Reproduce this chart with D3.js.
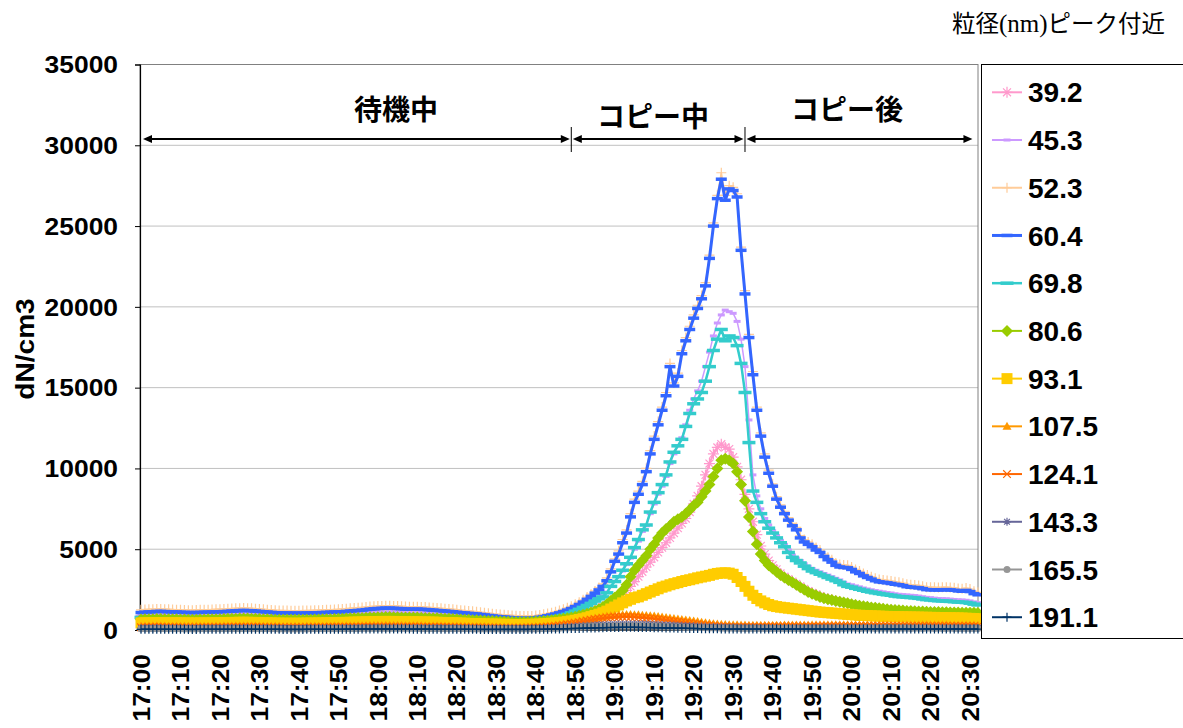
<!DOCTYPE html>
<html><head><meta charset="utf-8">
<script src="https://cdn.jsdelivr.net/npm/d3@7"></script>
<style>body{margin:0;background:#fff;}svg{display:block;}</style>
</head><body>
<svg id="chart" width="1183" height="728"></svg>
<script>
// ---------- DATA ----------
const startTime = "17:00";
const stepMinutes = 1;
const tickLabels = ["17:00","17:10","17:20","17:30","17:40","17:50","18:00","18:10","18:20","18:30","18:40","18:50","19:00","19:10","19:20","19:30","19:40","19:50","20:00","20:10","20:20","20:30"];
const yTickValues = [0,5000,10000,15000,20000,25000,30000,35000];
const seriesNames = ["39.2","45.3","52.3","60.4","69.8","80.6","93.1","107.5","124.1","143.3","165.5","191.1"];
const phaseLabels = ["待機中","コピー中","コピー後"];
const phaseBounds = ["17:00","18:49","19:33","20:31"];
const yTitle = "dN/cm3";
const caption = ["粒径","(nm)","ピーク付近"];

const s39_2 = [900,910,920,930,940,940,930,920,910,900,
890,880,880,870,870,880,890,890,900,910,
920,930,940,950,960,970,980,970,960,940,
930,910,890,880,860,850,840,840,830,830,
830,840,840,850,860,870,880,890,900,910,
920,930,940,960,980,990,1010,1030,1050,1060,
1070,1080,1090,1090,1080,1070,1060,1050,1040,1040,
1040,1030,1020,1000,990,970,950,930,910,890,
870,850,830,810,790,770,750,730,710,690,
670,650,640,630,620,610,600,600,610,620,
640,660,680,700,720,750,780,820,860,900,
950,1000,1060,1120,1180,1250,1330,1420,1520,1650,
1800,2000,2200,2450,2700,3000,3300,3600,3900,4200,
4500,4800,5100,5400,5700,6000,6300,6600,6900,7300,
7800,8300,8900,9600,10300,10900,11300,11500,11300,11200,
10700,10100,9300,8400,7500,6700,5900,5200,4700,4300,
4000,3750,3500,3300,3150,3000,2850,2700,2550,2400,
2300,2200,2100,2000,1930,1870,1810,1760,1700,1650,
1600,1550,1500,1460,1420,1390,1360,1330,1300,1270,
1240,1220,1200,1180,1160,1140,1130,1120,1110,1100,
1090,1080,1070,1060,1050,1050,1040,1040,1030,1030,
1020,1020,1010];

const s45_3 = [960,970,980,990,1000,1000,990,980,970,960,
950,940,940,930,930,940,950,950,960,970,
980,990,1000,1010,1020,1030,1040,1030,1020,1000,
990,970,950,940,920,910,900,900,890,890,
890,900,900,910,920,930,940,950,960,970,
980,990,1000,1020,1040,1050,1070,1090,1110,1120,
1130,1140,1150,1150,1140,1130,1120,1110,1100,1100,
1100,1090,1080,1060,1050,1030,1010,990,970,950,
930,910,890,870,850,830,810,780,760,740,
720,700,690,680,670,660,650,650,660,670,
690,720,750,790,830,880,930,990,1060,1140,
1240,1350,1460,1580,1710,1850,1990,2120,2350,2700,
3000,3300,3650,4050,4450,5000,5500,6100,6450,7200,
7800,8400,8900,9500,10300,10900,11400,11900,12700,13600,
14300,14800,15400,16300,17200,18200,19000,19500,19800,19700,
19600,19100,18000,16300,13000,9600,8300,7500,6900,6500,
6150,5850,5550,5300,4950,4650,4450,4300,4100,3950,
3800,3700,3600,3500,3400,3300,3200,3100,2950,2850,
2800,2730,2670,2600,2540,2490,2440,2400,2360,2320,
2290,2240,2210,2190,2170,2150,2130,2100,2060,2020,
2000,1970,1950,1940,1930,1910,1890,1870,1860,1840,
1800,1740,1690];

const s52_3 = [1250,1270,1280,1290,1300,1300,1290,1280,1270,1260,
1250,1240,1230,1230,1240,1250,1260,1260,1270,1280,
1290,1300,1310,1330,1340,1350,1360,1350,1340,1320,
1300,1280,1260,1240,1220,1210,1200,1200,1190,1190,
1190,1200,1200,1210,1220,1230,1240,1250,1260,1270,
1280,1300,1320,1340,1360,1380,1400,1420,1450,1470,
1480,1490,1500,1500,1490,1480,1470,1450,1440,1440,
1440,1430,1420,1400,1380,1360,1340,1320,1300,1280,
1250,1220,1200,1180,1160,1130,1100,1070,1040,1010,
980,960,940,920,900,880,870,860,860,870,
890,930,970,1020,1070,1130,1200,1280,1370,1470,
1590,1720,1870,2040,2220,2420,2630,2860,3220,3780,
4400,4900,5600,6200,7200,8100,8600,9200,10000,11100,
12000,12900,13800,14700,16500,15300,15900,17300,18100,18800,
19500,20100,20700,21500,23200,25200,26900,28300,26900,27500,
27400,27000,23700,21000,18300,16000,13800,12200,10900,9900,
9050,8250,7750,7350,6950,6600,6350,5850,5600,5450,
5300,5100,4950,4700,4500,4350,4150,4050,4020,4000,
3900,3750,3650,3500,3400,3300,3200,3130,3100,3070,
3030,2980,2950,2900,2830,2800,2780,2760,2710,2650,
2640,2640,2630,2640,2650,2630,2610,2570,2550,2600,
2530,2400,2330];

const s60_4 = [1080,1100,1120,1130,1150,1150,1140,1130,1120,1110,
1100,1090,1080,1080,1080,1090,1100,1100,1110,1120,
1130,1140,1150,1170,1180,1200,1210,1200,1190,1170,
1150,1130,1110,1090,1070,1060,1050,1050,1040,1040,
1040,1040,1050,1050,1060,1070,1080,1090,1100,1110,
1120,1130,1150,1170,1190,1210,1230,1260,1290,1310,
1330,1340,1350,1350,1340,1330,1320,1300,1290,1290,
1290,1280,1270,1250,1230,1210,1190,1170,1150,1130,
1100,1070,1050,1030,1010,990,960,930,900,870,
840,820,800,780,760,740,730,720,720,730,
750,790,830,880,930,990,1060,1140,1230,1330,
1450,1580,1730,1900,2080,2280,2480,2700,3050,3600,
4250,4700,5400,6000,7000,7900,8400,9000,9800,10900,
11800,12700,13600,14500,16300,15100,15700,17100,17900,18600,
19300,19900,20500,21300,23000,25000,26700,27900,26600,27300,
27200,26800,23500,20800,18100,15800,13600,12000,10700,9700,
8900,8100,7600,7200,6800,6450,6200,5700,5450,5300,
5150,4950,4800,4550,4350,4200,4000,3900,3870,3850,
3750,3600,3500,3350,3250,3150,3050,2980,2950,2920,
2880,2830,2800,2750,2680,2650,2630,2610,2560,2500,
2490,2490,2480,2490,2500,2480,2460,2420,2400,2450,
2380,2250,2180];

const s69_8 = [780,790,800,800,810,810,800,800,790,790,
780,780,770,770,770,780,780,790,790,800,
800,810,810,820,830,840,840,840,830,820,
810,800,790,780,770,760,760,750,750,750,
750,750,760,760,770,770,780,790,790,800,
810,820,830,840,850,860,870,880,890,900,
910,920,920,920,910,910,900,900,890,890,
890,880,870,860,850,840,830,820,810,800,
780,760,750,730,710,700,680,660,640,620,
610,600,590,580,570,560,560,560,570,580,
600,630,660,700,740,790,840,900,970,1060,
1170,1280,1400,1520,1650,1790,1930,2050,2300,2700,
3000,3300,3700,4100,4500,5100,5600,6200,6500,7300,
7900,8500,9000,9600,10400,11000,11400,11800,12600,13400,
14000,14300,14700,15400,16300,17300,18000,18600,17900,18200,
18100,17600,16500,14700,11600,8600,7900,7200,6700,6300,
6000,5700,5400,5150,4800,4500,4300,4150,3950,3800,
3650,3550,3450,3350,3250,3150,3050,2950,2800,2700,
2650,2580,2520,2460,2400,2350,2300,2260,2220,2180,
2150,2100,2070,2050,2030,2010,1990,1960,1920,1880,
1860,1830,1810,1800,1790,1770,1750,1730,1720,1700,
1660,1600,1550];

const s80_6 = [650,660,670,670,680,680,670,670,660,660,
650,650,640,640,640,650,650,660,660,670,
670,680,690,690,700,710,710,710,700,690,
680,670,660,650,640,640,630,630,630,630,
630,630,640,640,650,650,660,660,670,680,
690,700,710,720,730,740,750,760,770,780,
790,790,800,800,790,790,780,780,770,770,
770,760,750,740,730,720,710,700,690,680,
670,650,640,630,610,600,590,570,560,550,
540,530,520,510,500,500,490,490,500,510,
520,540,560,580,600,630,660,690,730,770,
820,880,940,1010,1090,1180,1290,1420,1600,1800,
2000,2200,2450,2800,3300,3700,4000,4300,4600,5000,
5300,5700,6000,6250,6450,6700,6850,7000,7200,7450,
7700,7900,8250,8600,9000,9500,10000,10500,10600,10500,
10300,9800,9000,8000,7000,6100,5300,4700,4300,4000,
3800,3600,3400,3250,3100,2950,2800,2650,2500,2350,
2250,2150,2050,1970,1900,1850,1800,1750,1700,1650,
1600,1550,1500,1470,1440,1400,1380,1350,1320,1290,
1260,1240,1220,1200,1180,1170,1160,1150,1140,1130,
1120,1110,1110,1100,1100,1090,1080,1080,1070,1070,
1060,1060,1050];

const s93_1 = [440,450,450,460,460,460,460,450,450,450,
440,440,440,430,430,440,440,440,450,450,
450,460,460,470,470,480,480,480,470,470,
460,450,450,440,430,430,420,420,420,420,
420,420,430,430,430,440,440,450,450,460,
460,470,470,480,490,490,500,510,510,520,
520,530,530,530,530,520,520,510,510,510,
510,500,500,490,490,480,470,460,460,450,
440,430,420,410,400,400,390,380,370,370,
360,360,350,350,340,340,340,340,350,350,
360,370,390,400,420,440,460,490,520,560,
600,650,700,760,830,900,980,1070,1170,1300,
1420,1550,1680,1800,1900,2000,2050,2150,2250,2350,
2450,2550,2650,2720,2800,2870,2930,3000,3060,3110,
3170,3230,3280,3330,3380,3450,3500,3530,3540,3520,
3450,3250,3000,2700,2400,2150,1950,1800,1680,1580,
1500,1450,1410,1380,1350,1320,1290,1260,1230,1200,
1170,1140,1110,1090,1070,1050,1030,1010,990,970,
950,930,910,900,890,880,870,860,850,840,
830,830,820,820,810,810,800,800,790,790,
780,780,770,770,760,760,750,750,740,730,
720,710,700];

const s107_5 = [250,250,260,260,260,260,250,250,250,250,
240,240,240,240,240,240,250,250,250,250,
250,260,260,260,270,270,270,270,260,260,
260,250,250,240,240,240,230,230,230,230,
230,230,240,240,240,240,250,250,250,260,
260,260,270,270,270,280,280,280,290,290,
290,290,300,300,290,290,290,280,280,280,
280,280,270,270,270,260,260,250,250,250,
240,240,230,230,220,220,210,210,200,200,
200,190,190,190,190,190,190,190,200,200,
210,220,240,260,280,310,340,380,420,460,
500,550,600,650,700,740,780,820,860,890,
910,930,950,960,960,950,940,920,900,880,
860,830,800,770,740,710,680,650,620,590,
560,520,480,450,420,390,370,350,340,330,
320,320,310,310,300,300,300,300,300,300,
300,300,300,310,310,310,310,310,310,310,
320,320,320,320,320,330,330,330,330,330,
330,330,330,330,330,330,330,330,330,330,
330,330,330,320,320,320,320,320,320,320,
320,320,320,320,320,310,310,310,310,310,
310,310,300];

const s124_1 = [170,170,170,180,180,180,170,170,170,170,
160,160,160,160,160,160,170,170,170,170,
170,170,180,180,180,190,190,190,180,180,
180,170,170,170,160,160,160,160,160,160,
160,160,160,160,170,170,170,170,180,180,
180,180,190,190,190,190,200,200,200,200,
210,210,210,210,210,200,200,200,200,200,
200,190,190,190,190,180,180,180,170,170,
170,160,160,160,150,150,150,140,140,140,
140,130,130,130,130,130,130,130,140,140,
150,160,170,190,210,240,270,300,340,380,
420,470,520,570,620,660,700,730,760,780,
800,810,820,820,810,800,780,760,740,720,
690,660,630,600,570,540,510,480,450,420,
390,360,330,300,280,260,240,230,220,210,
200,195,200,205,200,210,205,210,210,215,
215,220,215,220,220,225,220,225,225,225,
230,225,230,230,230,235,230,235,235,230,
235,235,230,235,235,240,235,235,240,235,
240,235,240,240,235,240,240,235,240,240,
235,240,235,235,240,235,235,230,235,235,
230,230,225];

const s143_3 = [110,110,115,115,120,120,115,115,110,110,
105,105,105,105,105,110,110,110,110,115,
115,115,120,120,120,125,125,125,120,120,
115,115,110,110,105,105,105,100,100,100,
100,100,105,105,105,110,110,110,115,115,
115,120,120,120,125,125,130,130,130,135,
135,135,140,140,140,135,135,135,130,130,
130,130,125,125,125,120,120,115,115,115,
110,110,105,105,100,100,100,95,95,95,
90,90,90,90,90,90,90,90,95,95,
100,105,110,120,130,140,155,170,185,200,
215,230,245,260,275,290,305,315,325,335,
345,350,355,360,360,360,355,350,345,340,
330,320,310,300,290,280,270,260,250,240,
230,220,210,200,190,180,170,165,160,155,
150,145,140,140,135,135,130,130,130,130,
125,125,125,125,125,130,130,130,130,130,
130,130,130,135,135,135,135,135,135,135,
135,140,135,135,140,135,140,135,135,140,
135,140,135,140,135,135,140,135,140,135,
135,135,140,135,135,130,135,135,130,135,
130,130,130];

const s165_5 = [70,70,75,75,80,80,75,75,70,70,
70,65,65,65,65,70,70,70,70,75,
75,75,80,80,80,85,85,85,80,80,
75,75,70,70,70,65,65,65,65,65,
65,65,65,70,70,70,75,75,75,75,
80,80,80,85,85,85,90,90,90,95,
95,95,95,95,95,95,90,90,90,90,
90,85,85,85,85,80,80,80,75,75,
75,70,70,70,65,65,65,60,60,60,
60,60,60,60,60,60,60,60,60,65,
65,70,75,80,90,100,110,120,130,140,
150,165,180,195,210,220,230,240,250,255,
260,265,270,270,270,270,265,260,255,250,
240,230,220,210,200,190,180,170,165,160,
150,145,140,135,130,125,120,115,110,105,
105,100,100,100,95,95,95,95,95,95,
95,95,95,95,100,100,100,100,100,100,
100,100,100,105,105,100,105,105,100,105,
105,105,100,105,105,105,100,105,105,105,
105,100,105,105,105,100,105,105,100,105,
105,100,105,100,100,105,100,100,100,100,
100,100,95];

const s191_1 = [40,40,45,45,45,45,45,40,40,40,
40,40,35,35,35,40,40,40,40,40,
45,45,45,45,50,50,50,50,45,45,
45,45,40,40,40,40,35,35,35,35,
35,35,40,40,40,40,40,45,45,45,
45,45,50,50,50,50,55,55,55,55,
55,60,60,60,55,55,55,55,55,50,
50,50,50,50,50,45,45,45,45,45,
45,40,40,40,40,40,35,35,35,35,
35,35,35,35,35,35,35,35,35,40,
40,40,45,50,55,60,65,70,80,90,
95,100,110,120,125,130,140,145,150,155,
160,160,165,165,165,165,160,160,155,150,
145,140,135,130,125,120,115,110,105,100,
95,90,85,80,75,70,70,65,65,60,
60,60,55,55,55,55,55,55,55,55,
55,55,55,55,55,55,60,60,60,60,
60,60,65,60,60,65,60,60,65,60,
60,65,60,60,65,60,60,65,60,60,
65,60,60,65,60,60,65,60,60,65,
60,60,65,60,60,60,65,60,60,60,
60,60,60];

const seriesValues = [s39_2,s45_3,s52_3,s60_4,s69_8,s80_6,s93_1,s107_5,s124_1,s143_3,s165_5,s191_1];

// ---------- STYLE ----------
const styles = [
  {color:"#ff99cc", lw:2,   marker:"asterisk", ms:5.5},
  {color:"#cc99ff", lw:1.5, marker:"dash", mw:7, mh:3},
  {color:"#ffcc99", lw:1.5, marker:"plus", ms:5},
  {color:"#3366ff", lw:3,   marker:"dash", mw:11, mh:3.5},
  {color:"#33cccc", lw:2.5, marker:"dash", mw:13, mh:3.5},
  {color:"#99cc00", lw:2,   marker:"diamond", ms:6},
  {color:"#ffcc00", lw:2,   marker:"square", ms:5.5},
  {color:"#ff9900", lw:2,   marker:"triangle", ms:4.5},
  {color:"#ff6600", lw:1.5, marker:"x", ms:3.8},
  {color:"#666699", lw:1.5, marker:"asterisk", ms:4},
  {color:"#969696", lw:1.5, marker:"circle", ms:3.5},
  {color:"#003366", lw:1.5, marker:"plus", ms:4.5}
];

// ---------- LAYOUT ----------
const svg = d3.select("#chart");
const plot = {left:140, right:978, top:64.5, bottom:630};
const parseHM = s => { const p = s.split(":").map(Number); return p[0]*60 + p[1]; };
const t0 = parseHM(startTime);
const x = d3.scaleLinear().domain([parseHM("17:00"), parseHM("20:30")]).range([141, 970]);
const y = d3.scaleLinear().domain([0, 35000]).range([plot.bottom, plot.top]);
const FONT = "'Liberation Sans', Arial, sans-serif";
const CJK = "'Noto Sans CJK JP', 'Noto Sans', sans-serif";

// gridlines
svg.append("g").selectAll("line").data(yTickValues.filter(v => v > 0 && v < 35000)).join("line")
  .attr("x1", plot.left).attr("x2", plot.right)
  .attr("y1", d => y(d)).attr("y2", d => y(d))
  .attr("stroke", "#c0c0c0").attr("stroke-width", 1);

// plot frame
svg.append("rect").attr("x", plot.left).attr("y", plot.top)
  .attr("width", plot.right - plot.left).attr("height", plot.bottom - plot.top)
  .attr("fill", "none").attr("stroke", "#808080").attr("stroke-width", 1);

// y axis
const yAxis = d3.axisLeft(y).tickValues(yTickValues).tickSize(5).tickFormat("");
const yg = svg.append("g").attr("transform", `translate(${plot.left},0)`).call(yAxis);
yg.select(".domain").attr("stroke", "#000").attr("stroke-width", 1.2);
yg.selectAll(".tick line").attr("stroke", "#000");
svg.append("g").selectAll("g").data(yTickValues).join("g")
  .attr("transform", d => `translate(118,${y(d)})`)
  .append("text").attr("transform", "scale(1.1,1)")
  .attr("text-anchor", "end").attr("dy", "0.36em")
  .attr("font-family", FONT).attr("font-weight", 700).attr("font-size", 24)
  .attr("fill", "#000")
  .text(d => d);

// x axis line
svg.append("line").attr("x1", plot.left).attr("x2", plot.right)
  .attr("y1", plot.bottom).attr("y2", plot.bottom).attr("stroke", "#000").attr("stroke-width", 1.2);

// x tick labels (rotated)
svg.append("g").selectAll("g").data(tickLabels).join("g")
  .attr("transform", d => `translate(${x(parseHM(d))},654) rotate(-90)`)
  .append("text").attr("transform", "scale(1.1,1)")
  .attr("text-anchor", "end").attr("dy", "0.36em")
  .attr("font-family", FONT).attr("font-weight", 700).attr("font-size", 24)
  .attr("fill", "#000")
  .text(d => d);

// y title
svg.append("g").attr("transform", "translate(25,349) rotate(-90)")
  .append("text").attr("transform", "scale(1.08,1)")
  .attr("text-anchor", "middle").attr("dy", "0.36em")
  .attr("font-family", FONT).attr("font-weight", 700).attr("font-size", 26)
  .attr("fill", "#000")
  .text(yTitle);

// caption top-right
const cap = svg.append("text").attr("x", 952).attr("y", 32)
  .attr("font-family", CJK).attr("font-size", 23.5).attr("fill", "#000");
cap.append("tspan").text(caption[0]);
cap.append("tspan").attr("font-family", "'Liberation Serif', 'DejaVu Serif', serif").attr("font-size", 25).text(caption[1]);
cap.append("tspan").text(caption[2]);

// ---------- MARKERS ----------
function markerPath(st) {
  const s = st.ms;
  switch (st.marker) {
    case "asterisk": { const d = s*0.72; return `M${-s},0H${s}M0,${-s}V${s}M${-d},${-d}L${d},${d}M${-d},${d}L${d},${-d}`; }
    case "plus": return `M${-s},0H${s}M0,${-s}V${s}`;
    case "x": return `M${-s},${-s}L${s},${s}M${-s},${s}L${s},${-s}`;
    case "diamond": return `M0,${-s}L${s},0L0,${s}L${-s},0Z`;
    case "square": return `M${-s},${-s}H${s}V${s}H${-s}Z`;
    case "triangle": return `M0,${-s}L${s},${s*0.75}L${-s},${s*0.75}Z`;
    case "dash": return `M${-st.mw/2},${-st.mh/2}H${st.mw/2}V${st.mh/2}H${-st.mw/2}Z`;
    case "circle": return `M${s},0A${s},${s} 0 1,1 ${-s},0A${s},${s} 0 1,1 ${s},0Z`;
  }
}
const strokeMarkers = new Set(["asterisk","plus","x"]);
function styleMarker(sel, st) {
  if (strokeMarkers.has(st.marker)) sel.attr("fill", "none").attr("stroke", st.color).attr("stroke-width", 1.2);
  else sel.attr("fill", st.color).attr("stroke", "none");
}

// ---------- SERIES ----------
const line = d3.line().x((d, i) => x(t0 + i*stepMinutes)).y(d => y(d));
const seriesG = svg.append("g");
seriesValues.forEach((vals, k) => {
  const st = styles[k];
  const g = seriesG.append("g");
  g.append("path").datum(vals).attr("d", line)
    .attr("fill", "none").attr("stroke", st.color).attr("stroke-width", st.lw)
    .attr("stroke-linejoin", "round");
  const mp = markerPath(st);
  g.selectAll("path.m").data(vals).join("path").attr("class", "m")
    .attr("transform", (d, i) => `translate(${x(t0 + i*stepMinutes)},${y(d)})`)
    .attr("d", mp).call(styleMarker, st);
});

// ---------- PHASE ANNOTATIONS ----------
const ann = svg.append("g");
const ay = 139;
function arrowHead(xTip, dir) {
  return `M${xTip},${ay}L${xTip - dir*9},${ay - 4}L${xTip - dir*9},${ay + 4}Z`;
}
for (let i = 0; i < phaseLabels.length; i++) {
  const xa = x(parseHM(phaseBounds[i])) + (i === 0 ? 2 : 1.5);
  const xb = x(parseHM(phaseBounds[i+1])) - 1.5;
  ann.append("line").attr("x1", xa + 4).attr("x2", xb - 4).attr("y1", ay).attr("y2", ay)
    .attr("stroke", "#000").attr("stroke-width", 2);
  ann.append("path").attr("d", arrowHead(xa, -1)).attr("fill", "#000");
  ann.append("path").attr("d", arrowHead(xb, 1)).attr("fill", "#000");
}
[phaseBounds[1], phaseBounds[2]].forEach(b => {
  const xs = x(parseHM(b));
  ann.append("line").attr("x1", xs).attr("x2", xs).attr("y1", 127).attr("y2", 152)
    .attr("stroke", "#000").attr("stroke-width", 1);
});
const labelPos = [[396,110],[653,117],[847,110]];
phaseLabels.forEach((t, i) => {
  ann.append("text").attr("x", labelPos[i][0]).attr("y", labelPos[i][1])
    .attr("text-anchor", "middle").attr("dy", "0.36em")
    .attr("font-family", CJK).attr("font-weight", 700).attr("font-size", 28)
    .attr("fill", "#000").text(t);
});

// ---------- LEGEND ----------
const lg = svg.append("g");
lg.append("rect").attr("x", 981.5).attr("y", 64.5).attr("width", 260).attr("height", 574)
  .attr("fill", "#fff").attr("stroke", "#000").attr("stroke-width", 1);
seriesNames.forEach((name, k) => {
  const st = styles[k];
  const ly = 92.3 + 47.72*k;
  lg.append("line").attr("x1", 992).attr("x2", 1022).attr("y1", ly).attr("y2", ly)
    .attr("stroke", st.color).attr("stroke-width", Math.max(2, st.lw));
  lg.append("path").attr("transform", `translate(1007,${ly})`).attr("d", markerPath(st)).call(styleMarker, st);
  lg.append("text").attr("x", 1028).attr("y", ly).attr("dy", "0.36em")
    .attr("font-family", FONT).attr("font-weight", 700).attr("font-size", 28)
    .attr("fill", "#000").text(name);
});
</script>
</body></html>
